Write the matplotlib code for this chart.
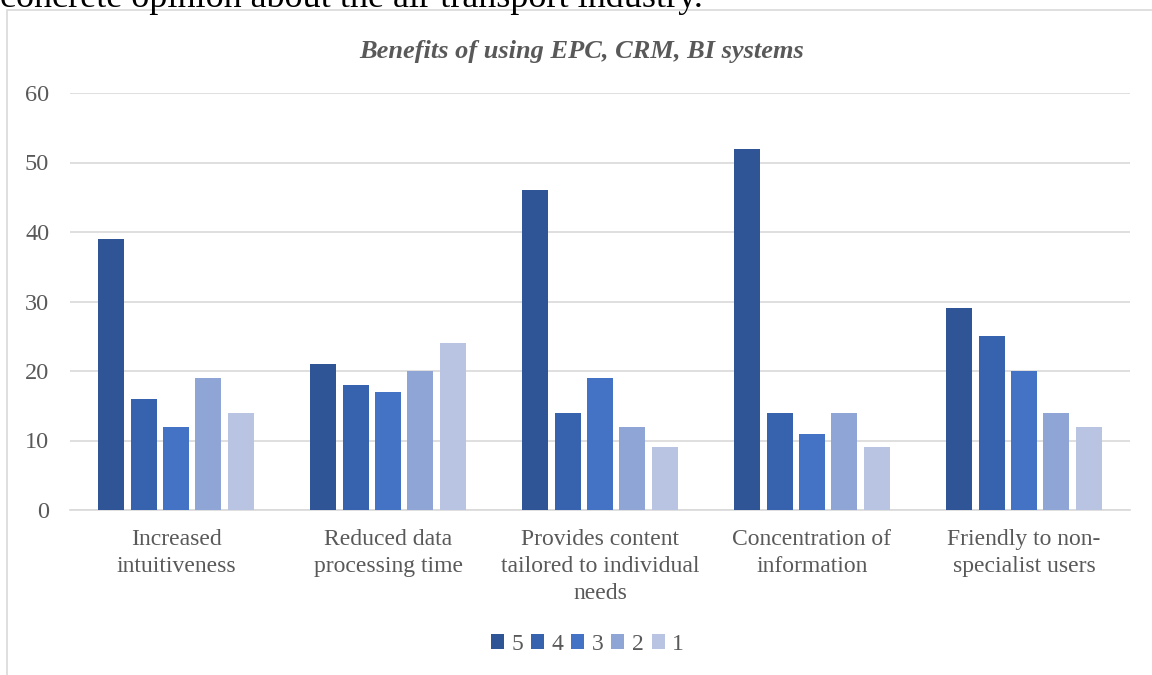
import matplotlib.pyplot as plt
import numpy as np
from matplotlib.patches import Rectangle

plt.rcParams['font.family'] = ['Liberation Serif', 'DejaVu Serif']

categories = ['Increased\nintuitiveness', 'Reduced data\nprocessing time',
              'Provides content\ntailored to individual\nneeds', 'Concentration of\ninformation',
              'Friendly to non-\nspecialist users']
series_names = ['5', '4', '3', '2', '1']
s5 = [39, 21, 46, 52, 29]
s4 = [16, 18, 14, 14, 25]
s3 = [12, 17, 19, 11, 20]
s2 = [19, 20, 12, 14, 14]
s1 = [14, 24, 9, 9, 12]
colors = ['#2F5597', '#3763AE', '#4472C4', '#8FA5D6', '#B9C4E3']

fig = plt.figure(figsize=(11.52, 6.75), dpi=100)
# cut-off line of document text above the chart
fig.text(0.0, 1 - 7 / 675, 'concrete opinion about the air transport industry.', fontsize=26,
         color='black', ha='left', va='baseline')
# chart border
fig.patches.append(Rectangle((7 / 1152, -0.05), 1.2, 1 - 10 / 675 + 0.05, transform=fig.transFigure,
                             fill=False, edgecolor='#D9D9D9', linewidth=1.2, zorder=-1))

ax = fig.add_axes([70 / 1152, 1 - 510 / 675, 1060 / 1152, 417 / 675])
ax.patch.set_visible(False)
x = np.arange(len(categories))
width = 0.123
step = 0.153
for i, (vals, name) in enumerate(zip([s5, s4, s3, s2, s1], series_names)):
    ax.bar(x + (i - 2) * step, vals, width, color=colors[i], label=name, zorder=3)

ax.set_xlim(-0.5, 4.5)
ax.set_ylim(0, 60)
ax.set_yticks(range(0, 61, 10))
ax.grid(axis='y', color='#D9D9D9', linewidth=1.2, zorder=0)
for s in ['top', 'right', 'left']:
    ax.spines[s].set_visible(False)
ax.spines['bottom'].set_color('#D9D9D9')
ax.spines['bottom'].set_linewidth(1.2)
ax.set_xticks(x)
ax.set_xticklabels(categories, fontsize=17, color='#595959', linespacing=1.35)
ax.tick_params(axis='x', length=0, pad=14)
ax.tick_params(axis='y', length=0, labelsize=17.5, labelcolor='#595959', pad=15)
ax.set_title('Benefits of using EPC, CRM, BI systems', fontsize=19, fontweight='bold',
             fontstyle='italic', color='#595959', x=0.483, pad=25)
ax.legend(loc='center', bbox_to_anchor=(0.488, -0.322), ncol=5, frameon=False, fontsize=17,
          labelcolor='#595959', handlelength=0.55, handleheight=0.55, handletextpad=0.3,
          columnspacing=0.35)
fig.savefig('out.png', dpi=100)
